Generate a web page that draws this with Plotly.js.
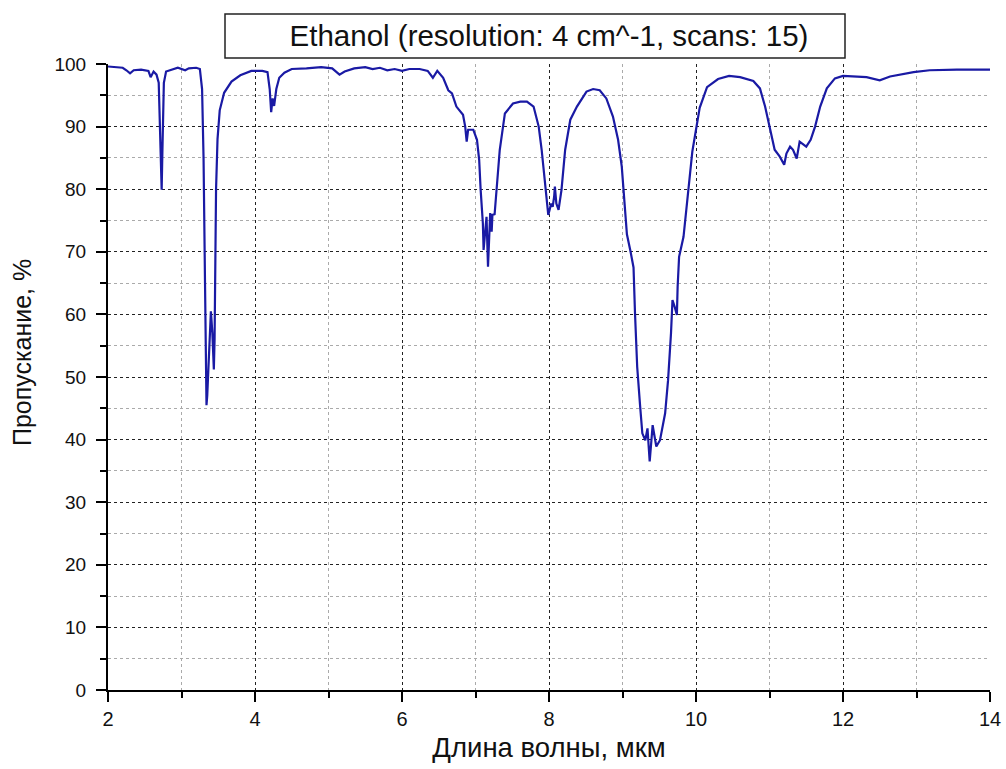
<!DOCTYPE html>
<html>
<head>
<meta charset="utf-8">
<script src="https://cdn.plot.ly/plotly-3.0.1.min.js"></script>
<style>html,body{margin:0;padding:0;background:#fff;}</style>
</head>
<body>
<div id="chart" style="width:1006px;height:769px;"></div>
<script>
const wavelength = [2.00,2.10,2.20,2.25,2.30,2.35,2.45,2.55,2.58,2.62,2.66,2.69,2.71,2.72,2.73,2.74,2.76,2.79,2.85,2.95,3.05,3.10,3.20,3.25,3.28,3.30,3.32,3.34,3.35,3.37,3.39,3.40,3.42,3.44,3.45,3.46,3.47,3.49,3.52,3.58,3.68,3.80,3.95,4.10,4.17,4.20,4.22,4.24,4.26,4.29,4.33,4.40,4.50,4.70,4.90,5.05,5.15,5.22,5.35,5.50,5.60,5.70,5.80,5.90,6.00,6.10,6.24,6.35,6.42,6.48,6.56,6.63,6.68,6.74,6.79,6.83,6.86,6.88,6.90,6.97,7.02,7.05,7.07,7.10,7.11,7.13,7.15,7.17,7.20,7.22,7.23,7.26,7.29,7.33,7.40,7.51,7.61,7.70,7.79,7.86,7.90,7.95,7.99,8.03,8.05,8.07,8.08,8.10,8.13,8.17,8.22,8.29,8.38,8.51,8.60,8.69,8.78,8.87,8.94,8.99,9.02,9.06,9.11,9.15,9.17,9.20,9.24,9.27,9.31,9.34,9.37,9.41,9.46,9.51,9.58,9.62,9.66,9.68,9.71,9.74,9.75,9.77,9.83,9.88,9.95,10.05,10.15,10.30,10.45,10.60,10.78,10.87,10.94,11.01,11.07,11.14,11.20,11.23,11.28,11.32,11.37,11.41,11.46,11.50,11.56,11.62,11.69,11.78,11.89,12.00,12.32,12.50,12.64,12.96,13.18,13.55,14.00];
const transmittance = [99.6,99.5,99.4,99.0,98.5,99.0,99.1,98.9,97.9,98.8,98.3,97.0,90,83,79.9,86,97,98.8,99.0,99.4,99.0,99.3,99.4,99.2,96,85,65,45.5,47,52,58,60.5,57,51.2,56,70,80,88,92.6,95.4,97.2,98.2,98.9,98.9,98.7,96,92.3,94.5,93.3,96,97.8,98.6,99.2,99.3,99.5,99.3,98.3,98.8,99.3,99.5,99.2,99.4,99.0,99.2,98.9,99.2,99.2,98.9,97.8,98.9,97.8,95.8,95.3,93.2,92.4,91.9,90.0,87.6,89.5,89.5,87.9,84.7,79.9,74.6,70.3,72.4,75.6,67.6,76.2,73.2,75.9,76,79.9,86.3,92.1,93.7,94.0,94.0,93.2,90.0,86.3,81,75.9,77.7,77.2,78.8,80.4,77.7,76.7,79.9,86.3,91.1,93.2,95.6,96.0,95.8,94.5,91.6,87.9,83.6,78.5,72.8,70.0,67.5,60.2,51.6,45.3,41.0,39.9,41.8,36.5,42.3,38.9,39.9,44.2,49.5,57,62.3,61.2,59.9,64.4,69.2,72.4,78.3,86,93,96.3,97.6,98.1,97.9,97.3,96.1,93.2,89.5,86.3,85.2,83.9,85.7,86.8,86.3,84.9,87.6,87.1,86.8,87.9,90.0,93.2,96.1,97.7,98.1,97.9,97.4,98.0,98.7,99.0,99.1,99.1];

const chartTitle = 'Ethanol (resolution: 4 cm^-1, scans: 15)';
const xTitle = 'Длина волны, мкм';
const yTitle = 'Пропускание, %';

const font = 'Liberation Sans, Arial, sans-serif';

const trace = {
  x: wavelength, y: transmittance, type: 'scatter', mode: 'lines',
  line: {color: '#1a1aa4', width: 2.2}, hoverinfo: 'skip'
};

const axisCommon = {
  showline: true, linecolor: '#000', linewidth: 2,
  ticks: 'outside', ticklen: 10, tickwidth: 2, tickcolor: '#000',
  showgrid: true, gridcolor: '#222', griddash: 'dot', gridwidth: 1,
  zeroline: false, mirror: false,
};

const layout = {
  width: 1006, height: 769,
  margin: {l: 108, r: 16, t: 64, b: 79},
  paper_bgcolor: '#fff', plot_bgcolor: '#fff',
  showlegend: false,
  font: {family: font, color: '#111'},
  title: {text: chartTitle, font: {family: font, size: 29.5, color: '#111'},
          x: 549/1006, xanchor: 'center', y: 1 - 36/769, yanchor: 'middle'},
  xaxis: Object.assign({}, axisCommon, {
    range: [2, 14], dtick: 2, tick0: 2,
    tickfont: {family: font, size: 20, color: '#111'},
    minor: {dtick: 1, ticklen: 6, tickwidth: 2, tickcolor: '#000', showgrid: true, gridcolor: '#aaa', griddash: 'dot', gridwidth: 1},
    title: {text: xTitle, font: {family: font, size: 27.5, color: '#111'}, standoff: 9}
  }),
  yaxis: Object.assign({}, axisCommon, {
    range: [0, 100], dtick: 10, tick0: 0,
    tickfont: {family: font, size: 19, color: '#111'},
    ticklabelstandoff: 6,
    minor: {dtick: 5, ticklen: 6, tickwidth: 2, tickcolor: '#000', showgrid: true, gridcolor: '#aaa', griddash: 'dot', gridwidth: 1}
  }),
  annotations: [{
    text: yTitle, xref: 'paper', yref: 'paper',
    x: (22-108)/882, y: (690-353)/626, xanchor: 'center', yanchor: 'middle',
    textangle: -90, showarrow: false,
    font: {family: font, size: 25, color: '#111'}
  }],
  shapes: [{
    type: 'rect', xref: 'paper', yref: 'paper',
    x0: (225-108)/882, x1: (845-108)/882,
    y0: (690-58)/626, y1: (690-14)/626,
    line: {color: '#222', width: 1.5}, fillcolor: 'rgba(0,0,0,0)'
  }]
};

Plotly.newPlot('chart', [trace], layout, {displayModeBar: false, staticPlot: true});
</script>
</body>
</html>
